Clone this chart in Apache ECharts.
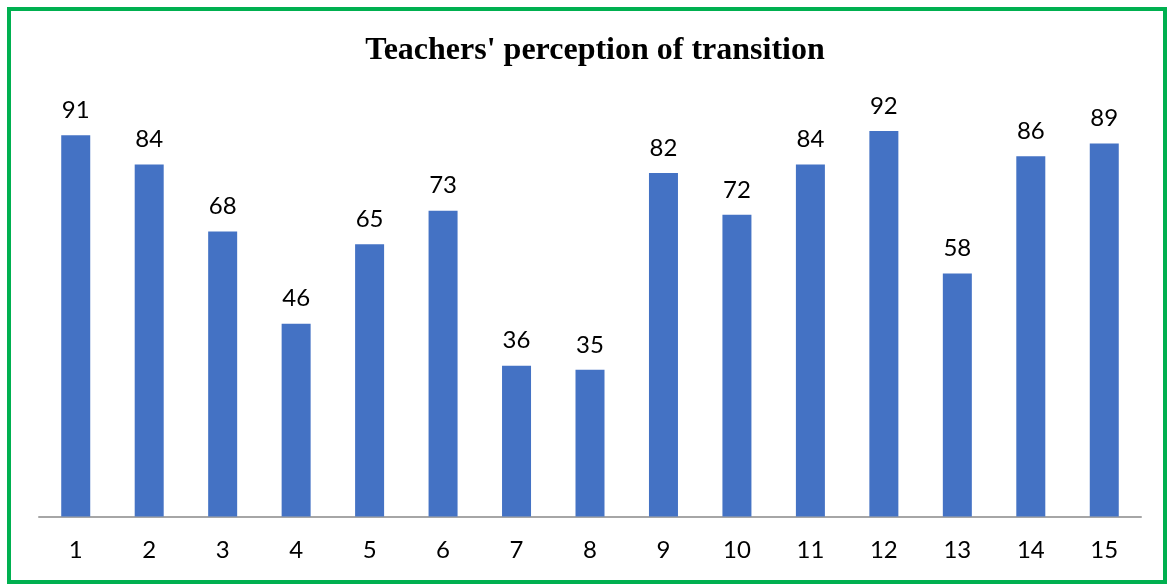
<!DOCTYPE html>
<html>
<head>
<meta charset="utf-8">
<script src="https://cdn.jsdelivr.net/npm/echarts@6/dist/echarts.min.js"></script>
<style>
html,body{margin:0;padding:0;background:#fff;}
#main{width:1167px;height:585px;}
</style>
</head>
<body>
<div id="main"></div>
<script>
const titleText = "Teachers' perception of transition";
const categories = ["1","2","3","4","5","6","7","8","9","10","11","12","13","14","15"];
const values = [91,84,68,46,65,73,36,35,82,72,84,92,58,86,89];

const chart = echarts.init(document.getElementById('main'), null, {renderer:'canvas'});
chart.setOption({
  animation:false,
  backgroundColor:'#ffffff',
  title:{
    text:titleText,
    left:590, top:30, textAlign:'center',
    textStyle:{fontFamily:'Liberation Serif', fontWeight:'bold', fontSize:32, color:'#000'}
  },
  graphic:[{
    type:'rect', shape:{x:9,y:9,width:1156,height:573},
    style:{fill:'none', stroke:'#00B050', lineWidth:4}, silent:true
  }],
  grid:{left:39, right:26, top:97.5, bottom:68.5, containLabel:false},
  xAxis:{
    type:'category', data:categories,
    axisLine:{lineStyle:{color:'#A6A6A6', width:2}},
    axisTick:{show:false},
    axisLabel:{fontFamily:'Lato', fontSize:24, color:'#000', margin:22}
  },
  yAxis:{
    type:'value', min:0, max:100, show:false,
    splitLine:{show:false}
  },
  series:[{
    type:'bar', data:values, barWidth:29,
    itemStyle:{color:'#4472C4'},
    label:{show:true, position:'top', distance:13, fontFamily:'Lato', fontSize:24, color:'#000'}
  }]
});
</script>
</body>
</html>
